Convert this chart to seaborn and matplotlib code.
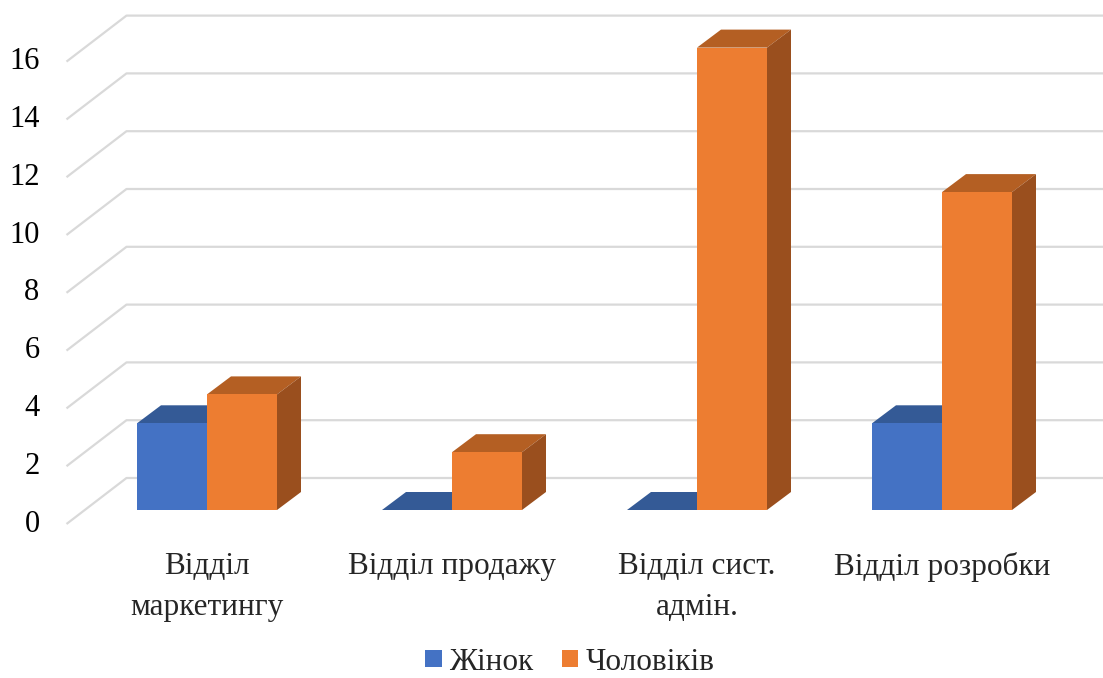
import numpy as np
import pandas as pd
import matplotlib
matplotlib.use("Agg")
import matplotlib.pyplot as plt
import seaborn as sns
from matplotlib.patches import Polygon

# ---------------- data ----------------
categories = ["Відділ маркетингу", "Відділ продажу", "Відділ сист. адмін.", "Відділ розробки"]
tick_labels = ["Відділ\nмаркетингу", "Відділ продажу", "Відділ сист.\nадмін.", "Відділ розробки"]
series = ["Жінок", "Чоловіків"]
women = [3, 0, 0, 3]
men = [4, 2, 16, 11]
y_ticks = [0, 2, 4, 6, 8, 10, 12, 14, 16]

df = pd.DataFrame({
    "Відділ": categories * 2,
    "Стать": [series[0]] * len(categories) + [series[1]] * len(categories),
    "Кількість": women + men,
})

# ---------------- style ----------------
sns.set_theme(style="white")
plt.rcParams["font.family"] = ["Liberation Serif", "DejaVu Serif"]

W, H, DPI = 1103, 678, 100
FS = 22.5

front_col = {"Жінок": "#4472c4", "Чоловіків": "#ed7d31"}
top_col = {"#4472c4": "#345a96", "#ed7d31": "#b45f23"}
side_col = {"#4472c4": "#2c4f8a", "#ed7d31": "#9a4f1e"}

fig = plt.figure(figsize=(W / DPI, H / DPI), dpi=DPI)
ax = fig.add_axes([84.5 / W, 168 / H, 980 / W, 462.4 / H])

sns.barplot(data=df, x="Відділ", y="Кількість", hue="Стать", order=categories,
            hue_order=series, palette=front_col, width=0.5714, saturation=1,
            ax=ax, linewidth=0)

ax.set_xlim(-0.5, len(categories) - 0.5)
ax.set_ylim(0, 16)
for s in ax.spines.values():
    s.set_visible(False)
ax.set_xlabel("")
ax.set_ylabel("")
ax.set_yticks([])
ax.set_xticks(range(len(categories)), tick_labels, fontsize=FS, linespacing=1.55)
ax.tick_params(axis="x", length=0, pad=30)
ax.grid(False)

to_data = ax.transData.inverted()

def disp_to_data(pts):
    return to_data.transform(np.asarray(pts, dtype=float))

# depth of bars (pixels, display coords: y up)
BDX, BDY = 24, 18
# front floor / back wall offsets relative to bar front plane
FDX, FDY = -18, -14
KDX, KDY = 42, 32

# ---------------- gridlines (3D walls) ----------------
x_left_disp = ax.transAxes.transform((0, 0))[0]
for v in y_ticks:
    yv = ax.transData.transform((0, v))[1]
    pts = [(x_left_disp + FDX, yv + FDY),
           (x_left_disp + KDX, yv + KDY),
           (W + 50, yv + KDY)]
    d = disp_to_data(pts)
    ax.plot(d[:, 0], d[:, 1], color="#d9d9d9", lw=1.6, clip_on=False, zorder=0.5,
            solid_capstyle="butt")
    ax.text(x_left_disp + FDX - 27, yv + FDY, f"{v}", transform=None,
            ha="right", va="center", fontsize=22, color="black")

# ---------------- 3D bar faces ----------------
for bar in list(ax.patches):
    fc = matplotlib.colors.to_hex(bar.get_facecolor())
    z = 3 if fc == front_col[series[1]] else 2
    bar.set_zorder(z + 0.2)
    x0, y0 = bar.get_x(), bar.get_y()
    x1, y1 = x0 + bar.get_width(), y0 + bar.get_height()
    (dx0, dy0), (dx1, dy1) = ax.transData.transform([(x0, y0), (x1, y1)])
    top = disp_to_data([(dx0, dy1), (dx1, dy1), (dx1 + BDX, dy1 + BDY), (dx0 + BDX, dy1 + BDY)])
    side = disp_to_data([(dx1, dy0), (dx1, dy1), (dx1 + BDX, dy1 + BDY), (dx1 + BDX, dy0 + BDY)])
    ax.add_patch(Polygon(top, closed=True, facecolor=top_col.get(fc, fc), edgecolor="none",
                         zorder=z, clip_on=False))
    ax.add_patch(Polygon(side, closed=True, facecolor=side_col.get(fc, fc), edgecolor="none",
                         zorder=z, clip_on=False))

# ---------------- legend ----------------
sns.move_legend(ax, loc="center", bbox_to_anchor=(570 / W, 1 - 662 / H),
                bbox_transform=fig.transFigure, ncol=2, frameon=False, title=None,
                fontsize=FS, handlelength=0.52, handleheight=0.5,
                handletextpad=0.25, columnspacing=0.9, borderpad=0.1)

fig.savefig("out.png", dpi=DPI)
